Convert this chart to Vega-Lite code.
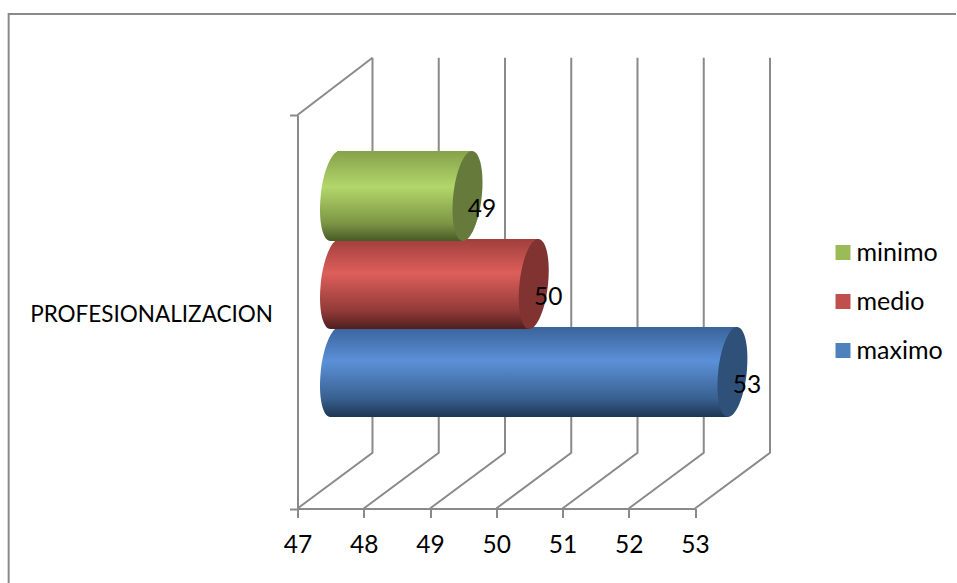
{
  "$schema": "https://vega.github.io/schema/vega-lite/v6.json",
  "width": 397.5,
  "height": 393.5,
  "padding": {"left": 297.5, "top": 115, "right": 262, "bottom": 74.5},
  "autosize": {"type": "none"},
  "background": "#ffffff",
  "config": {
    "view": {"stroke": null},
    "font": "Lato",
    "axis": {"grid": false, "domainColor": "#8a8a8a", "tickColor": "#8a8a8a", "domainWidth": 2, "tickWidth": 2, "labelColor": "#000000", "title": null, "labelFont": "Lato"}
  },
  "data": {
    "values": [
      {"serie": "minimo", "valor": 49},
      {"serie": "medio", "valor": 50},
      {"serie": "maximo", "valor": 53}
    ]
  },
  "layer": [
    {
      "data": {
        "values": [
          {"linea": "marco", "gx": 42.64, "gy": -0.19, "orden": 1},
          {"linea": "marco", "gx": 42.64, "gy": 1.2567, "orden": 2},
          {"linea": "marco", "gx": 56.94, "gy": 1.2567, "orden": 3},
          {"linea": "pared", "gx": 47, "gy": 1, "orden": 1},
          {"linea": "pared", "gx": 48.132, "gy": 1.1456, "orden": 2},
          {"linea": "47", "gx": 47, "gy": 0, "orden": 1},
          {"linea": "47", "gx": 48.132, "gy": 0.1418, "orden": 2},
          {"linea": "47", "gx": 48.132, "gy": 1.1456, "orden": 3},
          {"linea": "48", "gx": 48, "gy": 0, "orden": 1},
          {"linea": "48", "gx": 49.132, "gy": 0.1418, "orden": 2},
          {"linea": "48", "gx": 49.132, "gy": 1.1456, "orden": 3},
          {"linea": "49", "gx": 49, "gy": 0, "orden": 1},
          {"linea": "49", "gx": 50.132, "gy": 0.1418, "orden": 2},
          {"linea": "49", "gx": 50.132, "gy": 1.1456, "orden": 3},
          {"linea": "50", "gx": 50, "gy": 0, "orden": 1},
          {"linea": "50", "gx": 51.132, "gy": 0.1418, "orden": 2},
          {"linea": "50", "gx": 51.132, "gy": 1.1456, "orden": 3},
          {"linea": "51", "gx": 51, "gy": 0, "orden": 1},
          {"linea": "51", "gx": 52.132, "gy": 0.1418, "orden": 2},
          {"linea": "51", "gx": 52.132, "gy": 1.1456, "orden": 3},
          {"linea": "52", "gx": 52, "gy": 0, "orden": 1},
          {"linea": "52", "gx": 53.132, "gy": 0.1418, "orden": 2},
          {"linea": "52", "gx": 53.132, "gy": 1.1456, "orden": 3},
          {"linea": "53", "gx": 53, "gy": 0, "orden": 1},
          {"linea": "53", "gx": 54.132, "gy": 0.1418, "orden": 2},
          {"linea": "53", "gx": 54.132, "gy": 1.1456, "orden": 3}
        ]
      },
      "mark": {"type": "line", "color": "#8a8a8a", "strokeWidth": 2, "interpolate": "linear"},
      "encoding": {
        "x": {
          "field": "gx", "type": "quantitative",
          "scale": {"domain": [47, 53], "nice": false, "zero": false},
          "axis": {"values": [47, 48, 49, 50, 51, 52, 53], "format": "d", "tickSize": 9, "labelFontSize": 24.5, "labelPadding": 16, "labelFlush": false, "labelOverlap": false}
        },
        "y": {
          "field": "gy", "type": "quantitative",
          "scale": {"domain": [0, 1], "nice": false, "zero": false},
          "axis": {
            "values": [0, 0.5, 1], "tickSize": 8, "labelFontSize": 22.5, "labelPadding": 17, "labelLimit": 320, "labelOffset": 3,
            "labelExpr": "datum.value == 0.5 ? 'PROFESIONALIZACION' : ''",
            "tickOpacity": {"condition": {"test": "datum.value == 0.5", "value": 0}, "value": 1},
            "labelOverlap": false, "labelFlush": false
          }
        },
        "detail": {"field": "linea"},
        "order": {"field": "orden", "type": "quantitative"}
      }
    },
    {
      "encoding": {
        "y": {
          "field": "serie", "type": "nominal", "axis": null,
          "scale": {"type": "band", "domain": ["minimo", "medio", "maximo"], "range": [37, 301], "paddingInner": 0, "paddingOuter": 0}
        }
      },
      "layer": [
        {
          "mark": {"type": "bar", "size": 90, "xOffset": 32, "x2Offset": 39.5},
          "encoding": {
            "x": {"field": "valor", "type": "quantitative"},
            "x2": {"datum": 47},
            "color": {
              "field": "serie", "type": "nominal",
              "scale": {"domain": ["minimo", "medio", "maximo"], "range": ["#9bbb59", "#c0504d", "#4f81bd"]},
              "sort": null,
              "legend": {
                "title": null, "orient": "none", "legendX": 533, "legendY": 125,
                "symbolType": "square", "symbolSize": 225, "symbolStrokeWidth": 0,
                "labelFontSize": 25, "labelFont": "Lato", "labelColor": "#000000", "labelOffset": 1, "rowPadding": 23
              }
            }
          }
        },
        {
          "transform": [{"filter": "datum.serie == 'maximo'"}],
          "layer": [
            {
              "mark": {"type": "point", "filled": true, "opacity": 1, "strokeWidth": 0, "size": 4, "xOffset": 37.5,
                "shape": "M14.3 0C11.815 24.85 3.397 45 -4.5 45C-12.397 45 -16.785 24.85 -14.3 0C-11.815 -24.85 -3.397 -45 4.5 -45C12.397 -45 16.785 -24.85 14.3 0ZM4.5 -45L10 -45L10 45L-4.5 45Z",
                "fill": {"gradient": "linear", "x1": 0, "y1": 0, "x2": 0, "y2": 1, "stops": [{"offset": 0, "color": "#3a639a"}, {"offset": 0.38, "color": "#5b90d8"}, {"offset": 0.8, "color": "#38608f"}, {"offset": 1, "color": "#1d3552"}]}},
              "encoding": {"x": {"datum": 47}}
            },
            {
              "mark": {"type": "bar", "size": 90, "xOffset": 32, "x2Offset": 39.5,
                "fill": {"gradient": "linear", "x1": 0, "y1": 0, "x2": 0, "y2": 1, "stops": [{"offset": 0, "color": "#3a639a"}, {"offset": 0.38, "color": "#5b90d8"}, {"offset": 0.8, "color": "#38608f"}, {"offset": 1, "color": "#1d3552"}]}},
              "encoding": {"x": {"field": "valor", "type": "quantitative"}, "x2": {"datum": 47}}
            },
            {
              "mark": {"type": "point", "filled": true, "opacity": 1, "strokeWidth": 0, "size": 4, "xOffset": 37.5,
                "shape": "M4.5 -45L-4.5 45L-10 45L-10 -45Z",
                "fill": {"gradient": "linear", "x1": 0, "y1": 0, "x2": 0, "y2": 1, "stops": [{"offset": 0, "color": "#3a639a"}, {"offset": 0.38, "color": "#5b90d8"}, {"offset": 0.8, "color": "#38608f"}, {"offset": 1, "color": "#1d3552"}]}},
              "encoding": {"x": {"field": "valor", "type": "quantitative"}}
            },
            {
              "mark": {"type": "point", "filled": true, "opacity": 1, "strokeWidth": 0, "size": 4, "xOffset": 37.5, "fill": "#2f5078",
                "shape": "M14.3 0C11.815 24.85 3.397 45 -4.5 45C-12.397 45 -16.785 24.85 -14.3 0C-11.815 -24.85 -3.397 -45 4.5 -45C12.397 -45 16.785 -24.85 14.3 0Z"},
              "encoding": {"x": {"field": "valor", "type": "quantitative"}}
            }
          ]
        },
        {
          "transform": [{"filter": "datum.serie == 'medio'"}],
          "layer": [
            {
              "mark": {"type": "point", "filled": true, "opacity": 1, "strokeWidth": 0, "size": 4, "xOffset": 37.5,
                "shape": "M14.3 0C11.815 24.85 3.397 45 -4.5 45C-12.397 45 -16.785 24.85 -14.3 0C-11.815 -24.85 -3.397 -45 4.5 -45C12.397 -45 16.785 -24.85 14.3 0ZM4.5 -45L10 -45L10 45L-4.5 45Z",
                "fill": {"gradient": "linear", "x1": 0, "y1": 0, "x2": 0, "y2": 1, "stops": [{"offset": 0, "color": "#a03f3c"}, {"offset": 0.38, "color": "#dd5f5b"}, {"offset": 0.8, "color": "#903a38"}, {"offset": 1, "color": "#4f1f1e"}]}},
              "encoding": {"x": {"datum": 47}}
            },
            {
              "mark": {"type": "bar", "size": 90, "xOffset": 32, "x2Offset": 39.5,
                "fill": {"gradient": "linear", "x1": 0, "y1": 0, "x2": 0, "y2": 1, "stops": [{"offset": 0, "color": "#a03f3c"}, {"offset": 0.38, "color": "#dd5f5b"}, {"offset": 0.8, "color": "#903a38"}, {"offset": 1, "color": "#4f1f1e"}]}},
              "encoding": {"x": {"field": "valor", "type": "quantitative"}, "x2": {"datum": 47}}
            },
            {
              "mark": {"type": "point", "filled": true, "opacity": 1, "strokeWidth": 0, "size": 4, "xOffset": 37.5,
                "shape": "M4.5 -45L-4.5 45L-10 45L-10 -45Z",
                "fill": {"gradient": "linear", "x1": 0, "y1": 0, "x2": 0, "y2": 1, "stops": [{"offset": 0, "color": "#a03f3c"}, {"offset": 0.38, "color": "#dd5f5b"}, {"offset": 0.8, "color": "#903a38"}, {"offset": 1, "color": "#4f1f1e"}]}},
              "encoding": {"x": {"field": "valor", "type": "quantitative"}}
            },
            {
              "mark": {"type": "point", "filled": true, "opacity": 1, "strokeWidth": 0, "size": 4, "xOffset": 37.5, "fill": "#803331",
                "shape": "M14.3 0C11.815 24.85 3.397 45 -4.5 45C-12.397 45 -16.785 24.85 -14.3 0C-11.815 -24.85 -3.397 -45 4.5 -45C12.397 -45 16.785 -24.85 14.3 0Z"},
              "encoding": {"x": {"field": "valor", "type": "quantitative"}}
            }
          ]
        },
        {
          "transform": [{"filter": "datum.serie == 'minimo'"}],
          "layer": [
            {
              "mark": {"type": "point", "filled": true, "opacity": 1, "strokeWidth": 0, "size": 4, "xOffset": 37.5,
                "shape": "M14.3 0C11.815 24.85 3.397 45 -4.5 45C-12.397 45 -16.785 24.85 -14.3 0C-11.815 -24.85 -3.397 -45 4.5 -45C12.397 -45 16.785 -24.85 14.3 0ZM4.5 -45L10 -45L10 45L-4.5 45Z",
                "fill": {"gradient": "linear", "x1": 0, "y1": 0, "x2": 0, "y2": 1, "stops": [{"offset": 0, "color": "#85a24a"}, {"offset": 0.4, "color": "#b2d66a"}, {"offset": 0.8, "color": "#7d9645"}, {"offset": 1, "color": "#485a26"}]}},
              "encoding": {"x": {"datum": 47}}
            },
            {
              "mark": {"type": "bar", "size": 90, "xOffset": 32, "x2Offset": 39.5,
                "fill": {"gradient": "linear", "x1": 0, "y1": 0, "x2": 0, "y2": 1, "stops": [{"offset": 0, "color": "#85a24a"}, {"offset": 0.4, "color": "#b2d66a"}, {"offset": 0.8, "color": "#7d9645"}, {"offset": 1, "color": "#485a26"}]}},
              "encoding": {"x": {"field": "valor", "type": "quantitative"}, "x2": {"datum": 47}}
            },
            {
              "mark": {"type": "point", "filled": true, "opacity": 1, "strokeWidth": 0, "size": 4, "xOffset": 37.5,
                "shape": "M4.5 -45L-4.5 45L-10 45L-10 -45Z",
                "fill": {"gradient": "linear", "x1": 0, "y1": 0, "x2": 0, "y2": 1, "stops": [{"offset": 0, "color": "#85a24a"}, {"offset": 0.4, "color": "#b2d66a"}, {"offset": 0.8, "color": "#7d9645"}, {"offset": 1, "color": "#485a26"}]}},
              "encoding": {"x": {"field": "valor", "type": "quantitative"}}
            },
            {
              "mark": {"type": "point", "filled": true, "opacity": 1, "strokeWidth": 0, "size": 4, "xOffset": 37.5, "fill": "#667a3b",
                "shape": "M14.3 0C11.815 24.85 3.397 45 -4.5 45C-12.397 45 -16.785 24.85 -14.3 0C-11.815 -24.85 -3.397 -45 4.5 -45C12.397 -45 16.785 -24.85 14.3 0Z"},
              "encoding": {"x": {"field": "valor", "type": "quantitative"}}
            }
          ]
        },
        {
          "mark": {"type": "text", "font": "Lato", "fontSize": 24.5, "color": "#000000", "xOffset": 52, "yOffset": 14, "align": "center", "baseline": "middle"},
          "encoding": {
            "x": {"field": "valor", "type": "quantitative"},
            "text": {"field": "valor", "type": "quantitative", "format": "d"}
          }
        }
      ]
    }
  ],
  "resolve": {"scale": {"y": "independent"}, "axis": {"y": "independent"}}
}
